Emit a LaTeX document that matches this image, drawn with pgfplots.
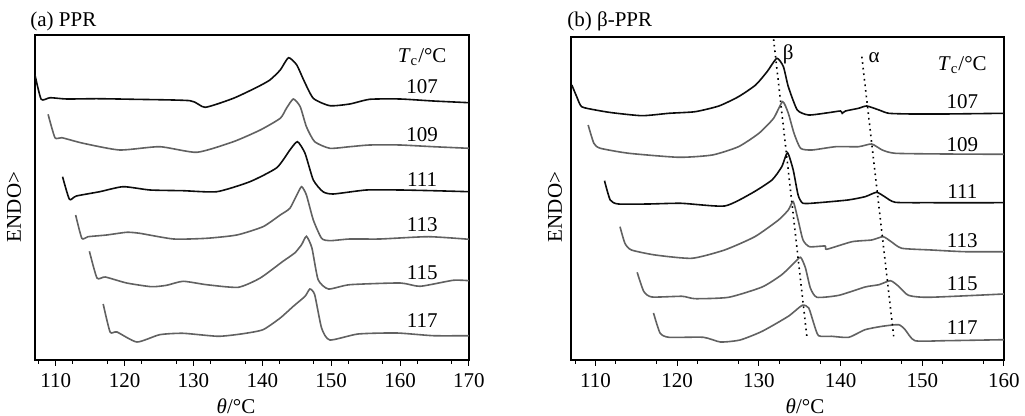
\documentclass[border=0pt]{standalone}
\usepackage{fontspec}
\setmainfont{Liberation Serif}
\usepackage{pgfplots}
\pgfplotsset{compat=1.18}

\definecolor{curveblack}{gray}{0.05}
\definecolor{curvegray}{gray}{0.38}

\tikzset{lbl/.style={font=\fontsize{10.5}{12}\selectfont, inner sep=0pt}}

\pgfplotsset{
  dsc/.style={
    scale only axis,
    axis lines=box,
    y dir=reverse,
    ytick=\empty,
    xtick pos=bottom,
    tick align=outside,
    major tick length=3pt,
    minor tick length=1.8pt,
    tick style={black, line width=0.5pt},
    axis line style={line width=0.6pt},
    ticklabel style={font=\fontsize{10.5}{12}\selectfont},
    /pgf/number format/assume math mode=true,
    clip=true,
  },
  blk/.style={curveblack, line width=0.8pt, smooth, tension=0.35},
  gry/.style={curvegray, line width=0.8pt, smooth, tension=0.35},
}

\begin{document}
\begin{tikzpicture}
\useasboundingbox (0,0) rectangle (512.5pt,208pt);

% ---------- (a) PPR ----------
\begin{axis}[dsc,
    at={(17.5pt,28pt)}, anchor=south west,
    width=217pt, height=162.5pt,
    xmin=107, xmax=170, ymin=35, ymax=360,
    xtick={110,120,...,170},
    minor xtick={107.5,112.5,...,167.5},
]
\addplot[blk] coordinates {(107.0,75)(107.9,99.3)(109.2,97.7)(111.6,99)(116.0,98.7)(121.3,99.3)(129.5,100.7)(131.7,107.3)(135.8,98.3)(139.2,87.3)(141.1,80)(142.6,70)(143.8,57.7)(145.0,65)(146.0,80)(147.4,98.3)(149.8,105.7)(152.7,104)(155.6,99.3)(160.0,99)(164.8,101)(170,102.7)};
\addplot[gry] coordinates {(108.9,114.3)(109.9,137.7)(110.9,137.7)(114.0,143.3)(119.3,150)(125.1,146.7)(130.5,152.3)(135.8,141.7)(139.7,130)(142.6,118.3)(143.5,108.3)(144.5,99)(145.5,106.7)(146.4,126.7)(147.6,141.7)(149.8,148.3)(152.7,146.7)(155.6,145)(160,145)(164.8,146.7)(170,148.3)};
\addplot[blk] coordinates {(111.0,176.7)(112.0,199.3)(113.0,196)(116.4,191.7)(119.8,186.7)(123.7,190)(128.5,190.7)(133.4,191.7)(138.2,181.7)(142.1,167.7)(144.0,150)(145.1,141.7)(146.2,153.3)(147.4,180)(148.8,191.7)(150.3,194)(155.1,190)(160,190)(164.8,190.7)(170,191.7)};
\addplot[gry] coordinates {(112.9,215)(113.8,238.3)(114.7,236.7)(117.4,235)(120.3,232.3)(122.2,233.3)(127.1,239)(131.9,238.3)(136.3,235)(140.1,226.7)(142.6,215)(144.0,208.3)(145.0,195)(145.7,186.7)(146.4,195)(147.4,220)(148.6,238.3)(149.8,240.7)(152.7,239)(157.1,239)(164.1,236.7)(170,239.3)};
\addplot[gry] coordinates {(114.9,251.3)(116.0,278)(117.2,277)(120.3,283)(123.9,286.7)(126.1,285.3)(128.5,281.3)(131.9,284.7)(136.5,287.3)(139.7,278)(143.0,261.3)(144.7,253)(145.7,244.7)(146.4,236.3)(147.2,248)(148.1,279.7)(149.6,289)(152.7,284.7)(160.0,283)(162.9,286.3)(167.7,280.3)(170,280.7)};
\addplot[gry] coordinates {(116.9,304)(117.9,332)(118.9,332)(121.8,342)(125.1,334.7)(128.5,333.3)(133.6,336.3)(137.2,333.7)(140.1,329.7)(142.6,318)(144.5,306.3)(146.2,296.3)(146.9,289)(147.6,294.7)(148.6,328)(149.8,340)(153.9,334)(159.5,333)(164.8,335.7)(170,335.7)};
\node[lbl] at (axis cs:163.2,57) {\textit{T}\textsubscript{c}/°C};
\node[lbl] at (axis cs:163.2,87) {107};
\node[lbl] at (axis cs:163.2,135) {109};
\node[lbl] at (axis cs:163.2,180) {111};
\node[lbl] at (axis cs:163.2,225) {113};
\node[lbl] at (axis cs:163.2,273) {115};
\node[lbl] at (axis cs:163.2,321) {117};
\end{axis}

% ---------- (b) beta-PPR ----------
\begin{axis}[dsc,
    at={(285.5pt,28pt)}, anchor=south west,
    width=216.5pt, height=161.5pt,
    xmin=107, xmax=160, ymin=37, ymax=360,
    xtick={110,120,...,160},
    minor xtick={107.5,112.5,...,157.5},
]
\addplot[blk] coordinates {(107.1,85)(107.7,96.7)(108.3,106.7)(110.0,110)(112.0,112.7)(115.7,115.7)(119.0,113.3)(122.2,111.7)(125.1,106)(127.5,96.7)(129.6,85)(131.0,71.7)(132.2,58.3)(133.0,66.7)(133.6,86.7)(134.7,110)(136.1,115)(138.5,112.7)(140.0,111)(140.2,113.3)(140.6,111)(142.2,108.3)(143.2,106)(144.7,110)(145.9,113.3)(148.7,114)(152.8,114)(160,113.3)};
\addplot[gry] coordinates {(109.1,125)(109.8,143.3)(110.6,148.3)(114.1,153.3)(120.2,157.3)(124.3,155)(127.5,146.7)(130.0,133.3)(131.8,118.3)(132.9,101.7)(133.6,113.3)(134.3,133.3)(135.1,148.3)(136.5,150)(139.4,146.7)(142.2,146.7)(143.8,144)(145.1,150)(146.7,153.3)(152.8,154)(160,154.3)};
\addplot[blk] coordinates {(111.1,180.7)(111.8,200)(112.8,204)(116.5,204)(120.5,203.3)(125.8,206)(129.1,193.3)(131.6,180)(132.8,166.7)(133.5,152.7)(134.2,170)(134.8,195)(135.4,203.3)(137.3,202.7)(140.9,200)(143.0,196.7)(144.4,192.3)(145.4,196.7)(146.7,202.3)(151.1,202.7)(160,202.7)};
\addplot[gry] coordinates {(113.0,226.7)(113.6,243.3)(114.4,250)(117.3,255)(121.8,258.3)(125.8,250)(129.5,236.7)(132.4,220)(133.6,210)(134.2,201.7)(134.8,220)(135.4,240)(136.2,246.7)(138.1,246)(138.3,249.3)(141.4,241.7)(143.8,240)(145.2,236.7)(146.2,241.7)(147.5,248.3)(151.1,250)(155.2,251.7)(160,251.7)};
\addplot[gry] coordinates {(115.1,272.3)(115.9,291.3)(116.9,297)(120.6,296.3)(122.2,298.7)(126.3,297.3)(130.4,287)(132.8,274.7)(134.3,263)(135.1,257.3)(135.7,268)(136.3,288)(137.1,297.3)(139.8,295.3)(143.0,287)(144.7,284.7)(146.1,280.7)(147.1,286.3)(148.3,295.3)(150.8,297.3)(160,294)};
\addplot[gry] coordinates {(117.1,313)(117.9,333)(119.0,337.3)(123.2,337.3)(125.3,342)(127.7,340)(130.4,331.3)(133.6,316.3)(135.3,305.3)(136.1,308)(136.7,323)(137.3,335.7)(138.9,336.3)(141.0,337.3)(143.0,329.7)(145.1,326.3)(147.1,324.7)(147.9,329.7)(149.1,340.7)(152.8,340.7)(160,339.7)};
% peak guide lines
\addplot[black, dotted, line width=0.8pt] coordinates {(131.8,39.3)(135.9,338.7)};
\addplot[black, dotted, line width=0.8pt] coordinates {(142.6,56.7)(146.5,336.3)};
\node[lbl] at (axis cs:133.6,54) {β};
\node[lbl] at (axis cs:144.1,58) {α};
\node[lbl] at (axis cs:154.9,65) {\textit{T}\textsubscript{c}/°C};
\node[lbl] at (axis cs:154.9,101.7) {107};
\node[lbl] at (axis cs:154.9,145) {109};
\node[lbl] at (axis cs:154.9,191.7) {111};
\node[lbl] at (axis cs:154.9,240.3) {113};
\node[lbl] at (axis cs:154.9,284) {115};
\node[lbl] at (axis cs:154.9,328) {117};
\end{axis}

% titles and axis labels
\node[lbl, anchor=west] at (15pt,197.5pt) {(a) PPR};
\node[lbl, anchor=west] at (283.5pt,197.5pt) {(b) β-PPR};
\node[lbl, rotate=90] at (7pt,104.5pt) {ENDO>};
\node[lbl, rotate=90] at (277.5pt,104.5pt) {ENDO>};
\node[lbl] at (118pt,5pt) {\textit{θ}/°C};
\node[lbl] at (402.5pt,5pt) {\textit{θ}/°C};
\end{tikzpicture}
\end{document}
